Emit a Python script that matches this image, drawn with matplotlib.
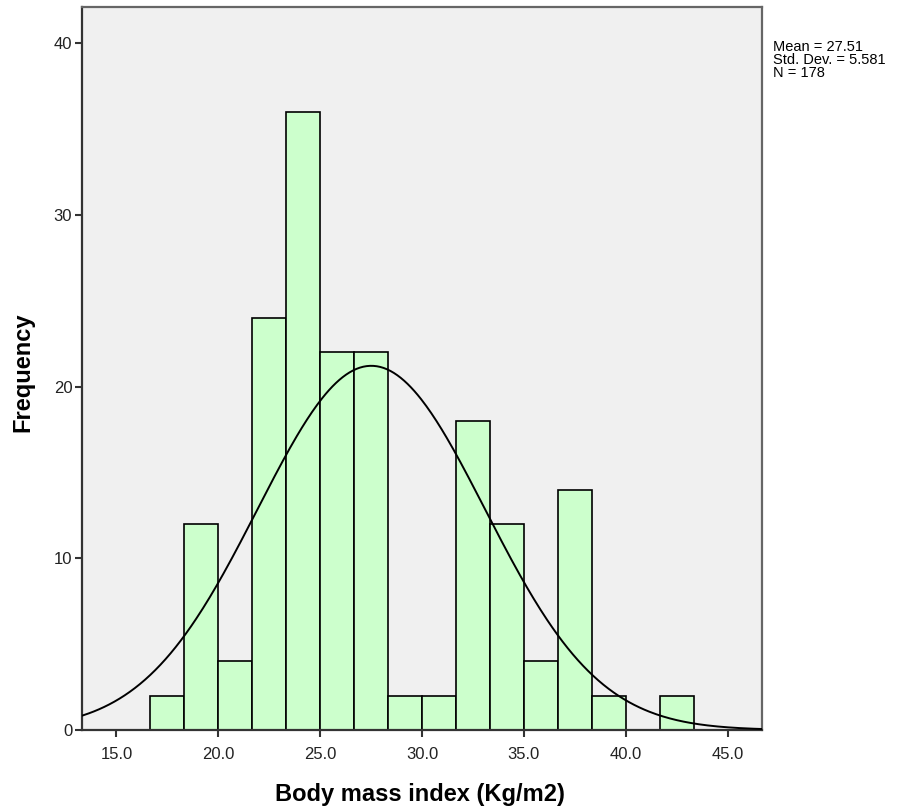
import numpy as np
import matplotlib
matplotlib.use("Agg")
import matplotlib.pyplot as plt

plt.rcParams['font.family'] = ['Liberation Sans', 'DejaVu Sans']

bin_edges = [50/3, 55/3, 20.0, 65/3, 70/3, 25.0, 80/3, 85/3, 30.0, 95/3, 100/3, 35.0, 110/3, 115/3, 40.0, 125/3, 130/3]
counts = [2, 12, 4, 24, 36, 22, 22, 2, 2, 18, 12, 4, 14, 2, 0, 2]
mean_val = 27.51
std_val = 5.581
n_val = 178
xticks = [15.0, 20.0, 25.0, 30.0, 35.0, 40.0, 45.0]
yticks = [0, 10, 20, 30, 40]

fig = plt.figure(figsize=(9.13, 8.09), dpi=100)
ax = fig.add_axes([82/913, 1-730/809, (762-82)/913, (730-7)/809])
ax.set_facecolor('#f0f0f0')

edges = np.array(bin_edges)
widths = np.diff(edges)
ax.bar(edges[:-1], counts, width=widths, align='edge', color='#ccffcc',
       edgecolor='black', linewidth=1.2, zorder=2)

xmin, xmax = 13.31, 46.69
xs = np.linspace(xmin, xmax, 400)
bw = widths.mean()
ys = n_val * bw / (std_val * np.sqrt(2*np.pi)) * np.exp(-0.5*((xs-mean_val)/std_val)**2)
ax.plot(xs, ys, color='black', linewidth=1.4, zorder=3)

ax.set_xlim(xmin, xmax)
ax.set_ylim(0, 42.1)
ax.set_xticks(xticks)
ax.set_xticklabels([f"{t:.1f}" for t in xticks], fontsize=12, color='#222222')
ax.set_yticks(yticks)
ax.set_yticklabels([str(t) for t in yticks], fontsize=12, color='#222222')
ax.tick_params(direction='out', length=5, width=1.5, color='#333333')
ax.tick_params(axis='x', pad=7)
ax.tick_params(axis='y', pad=2)

for s in ['left', 'bottom']:
    ax.spines[s].set_color('#333333')
    ax.spines[s].set_linewidth(1.6)
for s in ['top', 'right']:
    ax.spines[s].set_color('#666666')
    ax.spines[s].set_linewidth(1.6)

fig.text(420/913, 1-795/809, 'Body mass index (Kg/m2)', ha='center', va='center',
         fontsize=17, fontweight='bold')
fig.text(23/913, 1-372/809, 'Frequency', ha='center', va='center', rotation=90,
         fontsize=17, fontweight='bold')

fig.text(773/913, 1-40/809, f"Mean = {mean_val}\nStd. Dev. = {std_val}\nN = {n_val}",
         ha='left', va='top', fontsize=10.5, linespacing=0.92)

fig.savefig('out.png', dpi=100)
